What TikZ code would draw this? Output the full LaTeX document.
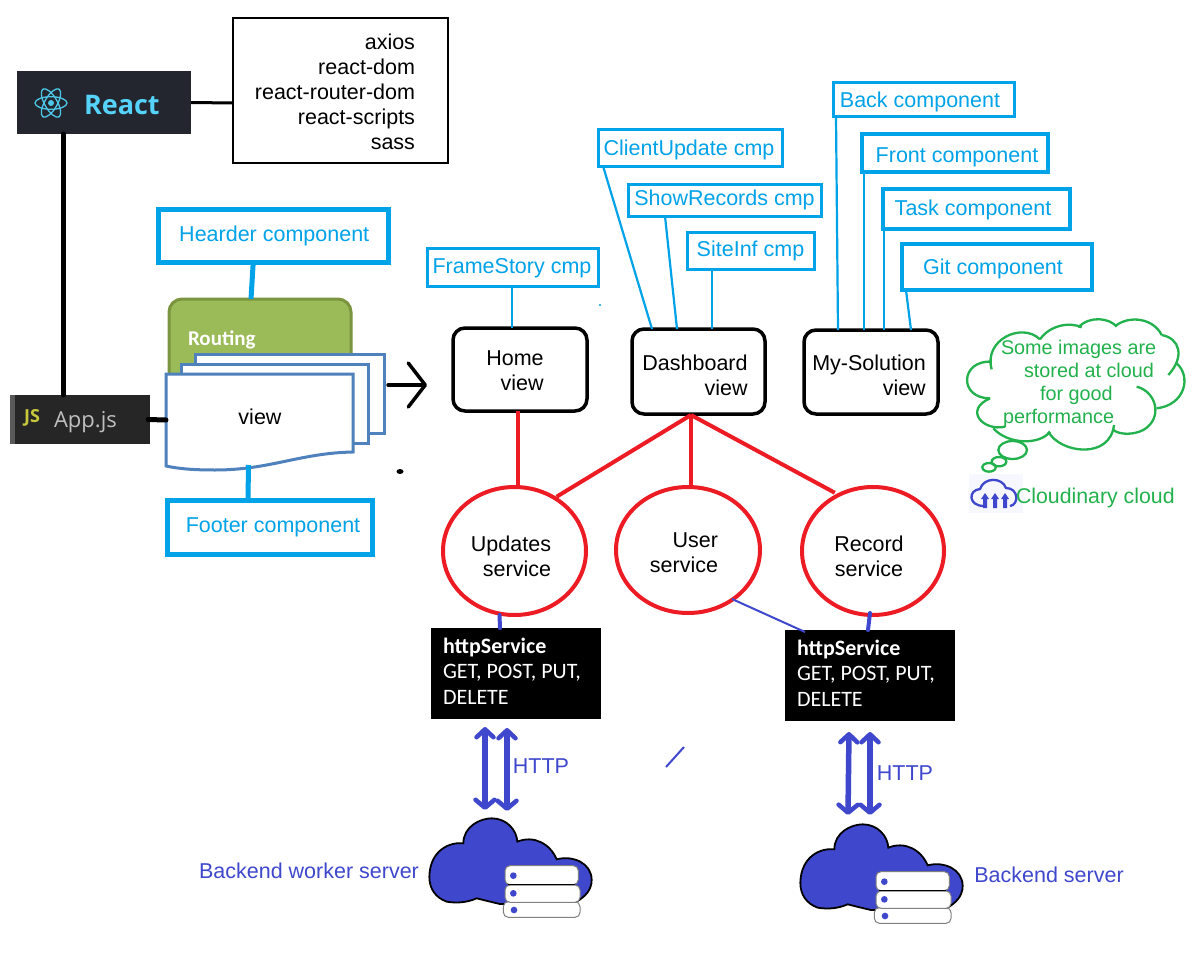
\documentclass[tikz,border=0pt]{standalone}
\usepackage{fontspec}
\setmainfont{Liberation Sans}
\newfontfamily\carl{Carlito}
\newfontfamily\opens{Open Sans}
\usetikzlibrary{arrows.meta,shapes.geometric}
\definecolor{cy}{HTML}{00A2E8}
\definecolor{rd}{HTML}{ED1C24}
\definecolor{bl}{HTML}{3F48CC}
\definecolor{gr}{HTML}{22B14C}
\definecolor{vb}{HTML}{4F81BD}
\definecolor{reactbg}{HTML}{23262E}
\definecolor{appbg}{HTML}{262626}
\definecolor{reactc}{HTML}{55D3FA}
\definecolor{atomc}{HTML}{4EC8E8}
\definecolor{routef}{HTML}{9BBB59}
\definecolor{routed}{HTML}{7A943F}
\definecolor{jsc}{HTML}{C8C83C}
\tikzset{
 x=1pt,y=-1pt,
 every node/.style={inner sep=0pt,outer sep=0pt},
 txt/.style={font=\fontsize{21.5}{25}\selectfont,text=black},
 cytxt/.style={font=\fontsize{21.5}{25}\selectfont,text=cy,text height=15.5pt,text depth=4.5pt},
 cybox/.style={draw=cy,fill=white,cytxt},
 cyline/.style={draw=cy,line width=2.2pt},
 blk/.style={draw=black,line width=5pt,line cap=round},
 viewbox/.style={draw=black,line width=3.5pt,rounded corners=12pt,fill=white},
 svc/.style={ellipse,draw=rd,line width=4pt,fill=white},
 redl/.style={draw=rd,line width=4pt},
 bll/.style={draw=bl,line width=4pt,line cap=round},
 dbl/.style={draw=bl,line width=5.5pt,line cap=round,
   {Straight Barb[length=8pt,width=17pt,round,line width=4.5pt]}-{Straight Barb[length=8pt,width=19pt,round,line width=4.5pt]}},
 page/.style={draw=vb,line width=3pt,fill=white},
 bub/.style={draw=gr,line width=2.3pt},
 httpbox/.style={fill=black,text=white,font=\carl\fontsize{22}{25.5}\selectfont,align=left},
 srv/.style={draw=gray,line width=1pt,fill=white,rounded corners=5pt},
 bltxt/.style={font=\fontsize{21.5}{24}\selectfont,text=bl},
}
% \bx[style]{name}{x1}{y1}{x2}{y2}{text}
\newcommand{\bx}[7][]{\pgfmathsetmacro{\bxcx}{(#3+#5)/2}\pgfmathsetmacro{\bxcy}{(#4+#6)/2}%
 \pgfmathsetmacro{\bxw}{#5-#3}\pgfmathsetmacro{\bxh}{#6-#4}%
 \node[#1,minimum width=\bxw pt,minimum height=\bxh pt] (#2) at (\bxcx,\bxcy) {#7};}
% cloud with database stack
\newcommand{\srvcloud}[3]{%
 \begin{scope}[shift={(#2,#3)}]
 \begin{scope}[scale=1/3]
 \draw[black,line width=1.8pt,fill=bl] (88,470) .. controls (90,390) and (150,365) .. (190,370)
   .. controls (190,320) and (240,295) .. (275,295) .. controls (320,295) and (350,330) .. (352,365)
   .. controls (400,345) and (450,370) .. (470,418) .. controls (520,405) and (575,430) .. (575,480)
   .. controls (575,510) and (555,530) .. (530,545) -- (300,552)
   .. controls (270,545) and (250,540) .. (230,535) .. controls (200,548) and (170,550) .. (140,545)
   .. controls (105,532) and (88,505) .. (88,470) -- cycle;
 \draw[srv] (310,545) rectangle (540,592);
 \draw[srv] (315,495) rectangle (540,547);
 \draw[srv] (315,437) rectangle (535,494);
 \draw[black,line width=1pt] (325,494) -- (525,494);
 \fill[bl] (340,467) circle (10) (340,520) circle (10) (342,570) circle (10);
 \end{scope}
 \node[minimum width=164pt,minimum height=100pt] (#1) at (110,148) {};
 \end{scope}}
\begin{document}
\begin{tikzpicture}
\useasboundingbox (0,0) rectangle (1192,966);
\fill[white] (0,0) rectangle (1192,966);

% React and libraries
\bx[draw=black,line width=2.5pt,fill=white]{lib}{233}{18}{448}{163}{}
\node[txt,align=right,anchor=north east] (libtxt) at (415,34) {axios\\react-dom\\react-router-dom\\react-scripts\\sass};
\bx[fill=reactbg]{react}{17}{71}{191}{134}{}
\node[font=\opens\bfseries\fontsize{27}{30}\selectfont,text=reactc,anchor=west] (reacttxt) at (84,105) {React};
\begin{scope}[shift={(51,103)}]
 \foreach \a in {0,60,120} \draw[color=atomc,line width=1.3pt,rotate=\a] (0,0) ellipse (16 and 6.3);
 \fill[color=atomc] (0,0) circle (3);
\end{scope}
\bx[fill=appbg]{app}{10}{395}{150}{444}{}
\fill[black!65] (10,395) rectangle (15,444);
\node[font=\opens\bfseries\fontsize{18}{18}\selectfont,text=jsc] (jstxt) at (32,418) {JS};
\node[font=\opens\fontsize{22}{24}\selectfont,text=black!25,anchor=west] (apptxt) at (54,422) {App.js};
\draw[draw=black,line width=3pt] (react.east) -- ([shift={(0,12.5)}]lib.west);
\draw[blk] ([shift={(-41,0)}]react.south) -- ([shift={(-17,0)}]app.north);

% Routing and views
\bx[draw=routed,line width=3pt,fill=routef,rounded corners=13pt]{routing}{169}{299}{351}{385}{}
\node[font=\carl\bfseries\fontsize{21}{24}\selectfont,text=white,anchor=west] (routingtxt) at (188,340) {Routing};
\draw[page] (195,354) rectangle (384,433);
\draw[page] (181,364) rectangle (368,443);
\draw[page] (166,374) -- (353,374) -- (353,452) .. controls (300,453) and (270,470) .. (215,470) .. controls (195,470) and (180,469) .. (166,466) -- cycle;
\bx[txt]{view}{166}{374}{353}{466}{}
\node[txt] (viewtxt) at (260,417) {view};
\bx[cybox,line width=5pt]{header}{158.5}{209.5}{388}{262}{\hspace*{2pt}Hearder component}
\bx[cybox,line width=5pt]{footer}{167}{500}{372}{554}{\hspace*{7pt}Footer component}
\draw[draw=cy,line width=5pt] ([shift={(-20,0)}]header.south) -- ([shift={(-9,0)}]routing.north);
\draw[draw=cy,line width=5pt] ([shift={(-11,-1)}]view.south) -- ([shift={(-21.5,0)}]footer.north);
\draw[blk] ([shift={(-2,0)}]app.east) -- (view.west);

% Views
\bx[viewbox]{home}{453}{328}{587}{411}{}
\node[txt,align=right] (hometxt) at (515,371) {Home\\view};
\bx[viewbox]{dash}{632}{329}{765}{414}{}
\node[txt,align=right] (dashtxt) at (695,375) {Dashboard\\view};
\bx[viewbox]{sol}{804}{330}{938}{414}{}
\node[txt,align=right] (soltxt) at (869,375) {My-Solution\\view};
\draw[black,line width=3.5pt,line cap=round,-{Straight Barb[length=17pt,width=44pt,round,line width=3.5pt]}] ([shift={(35,-35)}]view.east) -- ([shift={(-26,15.5)}]home.west);

% Sub components
\bx[cybox,line width=3pt]{frame}{427}{248}{598}{286}{\hspace*{-1pt}\raisebox{-1pt}{FrameStory cmp}}
\bx[cybox,line width=3pt]{client}{598}{129}{782}{166}{\hspace*{-2pt}\raisebox{-2pt}{ClientUpdate cmp}}
\bx[cybox,line width=3pt]{show}{628}{184}{821}{216}{ShowRecords cmp}
\bx[cybox,line width=3pt]{site}{687}{232}{814}{269}{SiteInf cmp}
\bx[cybox,line width=3pt]{back}{833}{83}{1014}{116}{\hspace*{-7pt}\raisebox{-2pt}{Back component}}
\bx[cybox,line width=3.5pt]{front}{862}{134}{1048}{172}{\hspace*{4pt}\raisebox{-4pt}{Front component}}
\bx[cybox,line width=4pt]{task}{883}{189}{1070}{229}{\hspace*{-7pt}\raisebox{-1pt}{Task component}}
\bx[cybox,line width=4pt]{git}{902}{244}{1092}{290}{\hspace*{-8pt}\raisebox{-1.5pt}{Git component}}
\draw[cyline] ([shift={(-0.5,0)}]frame.south) -- ([shift={(-8,0)}]home.north);
\draw[cyline] ([shift={(-87,0)}]client.south) -- ([shift={(-46.5,0)}]dash.north);
\draw[cyline] ([shift={(-59.5,0)}]show.south) -- ([shift={(-21.5,0)}]dash.north);
\draw[cyline] ([shift={(-38.5,0)}]site.south) -- ([shift={(13.5,0)}]dash.north);
\draw[cyline] ([shift={(-87.5,0)}]back.south) -- ([shift={(-33,0)}]sol.north);
\draw[cyline] ([shift={(-91,0)}]front.south) -- ([shift={(-7,0)}]sol.north);
\draw[cyline] ([shift={(-92.5,0)}]task.south) -- ([shift={(13,0)}]sol.north);
\draw[cyline] ([shift={(-91,0)}]git.south) -- ([shift={(40,0)}]sol.north);

% Services
\bx[svc]{upd}{443}{487}{586}{615}{}
\bx[svc]{user}{616}{487}{760}{613}{}
\bx[svc]{rec}{802}{487}{944}{615}{}
\draw[redl] ([shift={(-2,0)}]home.south) -- ([shift={(3.5,0)}]upd.north);
\node[txt,align=right] (updtxt) at (511,556) {Updates\\service};
\node[txt,align=right] (usertxt) at (684,553) {User\\service};
\node[txt,align=center] (rectxt) at (869,556) {Record\\service};
\draw[redl] ([shift={(-7.5,1)}]dash.south) -- ([shift={(-8.5,-9)}]upd.north east);
\draw[redl] ([shift={(-7.5,1)}]dash.south) -- ([shift={(3,0)}]user.north);
\draw[redl] ([shift={(-7.5,1)}]dash.south) -- ([shift={(12,-13)}]rec.north west);

% http
\bx[fill=black]{httpa}{431}{628}{601}{719}{}
\bx[fill=black]{httpb}{785}{630}{955}{721}{}
\node[httpbox,anchor=north west] (httpatxt) at (443,638) {\textbf{httpService}\\GET, POST, PUT,\\DELETE};
\node[httpbox,anchor=north west] (httpbtxt) at (797,640) {\textbf{httpService}\\GET, POST, PUT,\\DELETE};
\draw[bll] ([shift={(-15,0)}]upd.south) -- ([shift={(-16,0)}]httpa.north);
\draw[bll] ([shift={(-3,-2)}]rec.south) -- ([shift={(-2,0)}]httpb.north);
\draw[draw=bl,line width=2pt] ([shift={(44,-14)}]user.south) -- ([shift={(20,2)}]httpb.north west);

% Clouds
\srvcloud{clouda}{400}{720}
\srvcloud{cloudb}{771}{726}
\draw[dbl] ([shift={(-31,8)}]httpa.south) -- ([shift={(-25,-8)}]clouda.north);
\draw[dbl] ([shift={(-9,9)}]httpa.south) -- ([shift={(-3,-7)}]clouda.north);
\draw[dbl] ([shift={(-21,11)}]httpb.south) -- ([shift={(-33,-9)}]cloudb.north);
\draw[dbl] ([shift={(0,11)}]httpb.south) -- ([shift={(-11,-9)}]cloudb.north);
\node[bltxt] (httpal) at (541,766) {HTTP};
\node[bltxt] (httpbl) at (905,773) {HTTP};
\node[bltxt] (worker) at (309,871) {Backend worker server};
\node[bltxt] (backend) at (1049,875) {Backend server};

% Thought bubble
\begin{scope}[shift={(950,310)}]
\begin{scope}[scale=1/3]
\draw[bub] (125,178) .. controls (100,90) and (215,35) .. (270,88);
\draw[bub] (270,88) .. controls (300,45) and (360,35) .. (395,52);
\draw[bub] (385,52) .. controls (420,15) and (480,25) .. (500,50);
\draw[bub] (497,47) .. controls (540,15) and (610,25) .. (635,75);
\draw[bub] (635,75) .. controls (690,85) and (705,140) .. (655,195);
\draw[bub] (680,160) .. controls (725,200) and (705,285) .. (620,295);
\draw[bub] (560,230) .. controls (620,245) and (640,325) .. (580,360) .. controls (550,375) and (510,375) .. (490,360);
\draw[bub] (295,365) .. controls (330,430) and (480,450) .. (492,345);
\draw[bub] (130,355) .. controls (175,405) and (270,405) .. (300,365);
\draw[bub] (165,350) .. controls (100,365) and (40,300) .. (120,265);
\draw[bub] (120,265) .. controls (25,265) and (30,150) .. (125,155);
\draw[bub] (188,420) ellipse (43 and 27);
\draw[bub] (147,455) ellipse (22 and 14);
\draw[bub] (117,472) ellipse (20 and 13);
\end{scope}
\end{scope}
\node[font=\fontsize{19.8}{23}\selectfont,text=gr,align=left,anchor=north west] (bubtxt) at (1001,340) {Some images are\\\hspace*{23pt}stored at cloud\\\hspace*{39pt}for good\\\hspace*{2pt}performance};
\fill[blue!3] (969,474) rectangle (1023,513);
\draw[bl,line width=2.3pt] (984,506) .. controls (968,506) and (968,490) .. (980,489) .. controls (984,477) and (1002,477) .. (1006,488) .. controls (1019,488) and (1019,505) .. (1010,506);
\foreach \xx in {985,995,1005}{\fill[bl] (\xx-4,499) -- (\xx,493) -- (\xx+4,499) -- (\xx+2,499) -- (\xx+2,508) -- (\xx-2,508) -- (\xx-2,499) -- cycle;}
\node[font=\fontsize{21.3}{24}\selectfont,text=gr,anchor=west] (cloudn) at (1016,497.5) {Cloudinary cloud};

% stray marks
\draw[draw=bl,line width=2pt] (666,767) -- (684,747);
\fill[black] (400,471.5) ellipse (3.5 and 2.5);
\fill[cy] (600,305) circle (1.2);
\end{tikzpicture}
\end{document}
